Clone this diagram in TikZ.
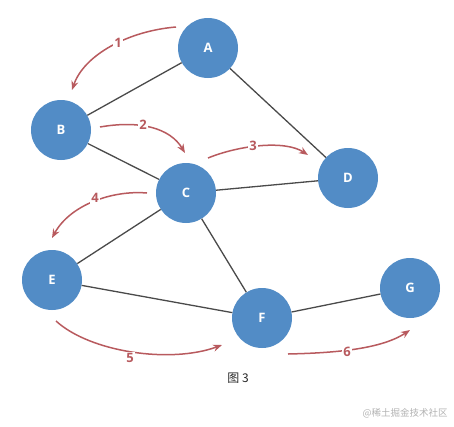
\documentclass[tikz,border=0pt]{standalone}
\usepackage{fontspec}
\setmainfont{Open Sans}
\newfontfamily\cjk{Noto Sans CJK SC}
\usetikzlibrary{arrows.meta}
\definecolor{nodeblue}{HTML}{528CC6}
\definecolor{arrred}{HTML}{B85A5E}
\definecolor{edgegray}{HTML}{4A4A4A}
\tikzset{
  vert/.style={circle,fill=nodeblue,minimum size=60pt,inner sep=0pt,text=white,font=\bfseries\fontsize{13}{15}\selectfont},
  edge/.style={draw=edgegray,line width=1.3pt},
  travel/.style={draw=arrred,line width=1.5pt,-{Stealth[length=9pt,width=7pt]}},
  steplabel/.style={fill=white,inner sep=1pt,text=arrred,font=\bfseries\fontsize{13}{15}\selectfont}
}
\begin{document}
\begin{tikzpicture}[x=1pt,y=-1pt]
\useasboundingbox (0,0) rectangle (454,426);
\node[vert] (A) at (208,48) {A};
\node[vert] (B) at (61,130) {B};
\node[vert] (C) at (186,193) {C};
\node[vert] (D) at (348,178) {D};
\node[vert] (E) at (52,280) {E};
\node[vert] (F) at (262,318) {F};
\node[vert] (G) at (410,288) {G};
\draw[edge] (A) -- (B);
\draw[edge] (A) -- (D);
\draw[edge] (B) -- (C);
\draw[edge] (C) -- (D);
\draw[edge] (C) -- (E);
\draw[edge] (C) -- (F);
\draw[edge] (E) -- (F);
\draw[edge] (F) -- (G);
\coordinate (s1) at (176,27); \coordinate (e1) at (72,90);
\coordinate (s2) at (100,127); \coordinate (e2) at (185,153);
\coordinate (s3) at (208,158); \coordinate (e3) at (308,155);
\coordinate (s4) at (147,193); \coordinate (e4) at (52,238);
\coordinate (s5) at (56,321); \coordinate (e5) at (222,345);
\coordinate (s6) at (288,354); \coordinate (e6) at (410,330);
\draw[travel] (s1) .. controls (128,31) and (84,55) .. (e1);
\draw[travel] (s2) .. controls (140,120) and (170,128) .. (e2);
\draw[travel] (s3) .. controls (240,145) and (285,140) .. (e3);
\draw[travel] (s4) .. controls (112,190) and (70,205) .. (e4);
\draw[travel] (s5) .. controls (90,352) and (170,364) .. (e5);
\draw[travel] (s6) .. controls (330,353) and (380,350) .. (e6);
\node[steplabel] (l1) at (118,43) {1};
\node[steplabel] (l2) at (143,125) {2};
\node[steplabel] (l3) at (253,146) {3};
\node[steplabel] (l4) at (95,198) {4};
\node[steplabel] (l5) at (130,358) {5};
\node[steplabel] (l6) at (347,352) {6};
\node[font=\cjk\fontsize{12}{14}\selectfont,text=black!85] (cap) at (238,378) {图 3};
\node[font=\cjk\fontsize{9.5}{11}\selectfont,text=black!30] (wm) at (405,413) {@稀土掘金技术社区};
\end{tikzpicture}
\end{document}
